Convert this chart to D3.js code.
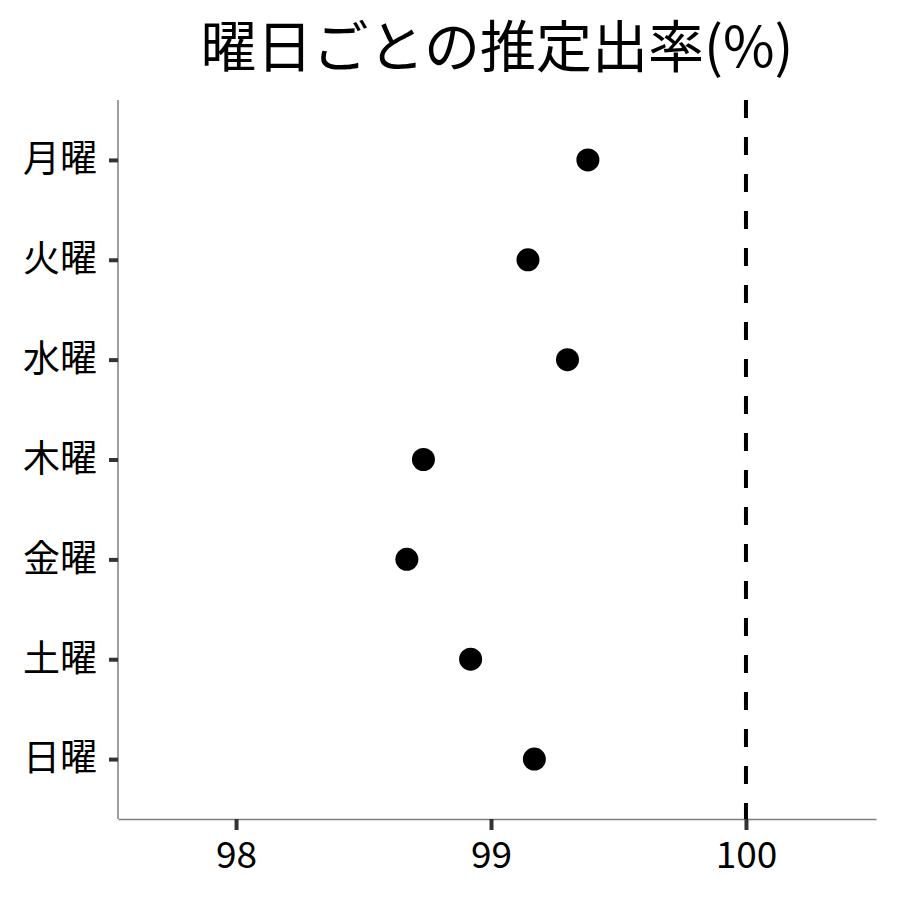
<!DOCTYPE html>
<html>
<head>
<meta charset="utf-8">
<script src="https://cdn.jsdelivr.net/npm/d3@7"></script>
<style>
  body { margin: 0; background: #fff; }
  text { font-family: "Noto Sans CJK JP", "Noto Sans", sans-serif; }
</style>
</head>
<body>
<svg id="chart" width="900" height="900"></svg>
<script>
const days = ["月曜", "火曜", "水曜", "木曜", "金曜", "土曜", "日曜"];
const rates = [99.38, 99.145, 99.30, 98.735, 98.67, 98.92, 99.17];
const xTicks = [98, 99, 100];
const refValue = 100;
const title = "曜日ごとの推定出率(%)";

const svg = d3.select("#chart");
const margin = { top: 100, right: 24, bottom: 81, left: 118 };
const width = 900 - margin.left - margin.right;
const height = 900 - margin.top - margin.bottom;

const g = svg.append("g")
  .attr("transform", `translate(${margin.left},${margin.top})`);

const x = d3.scaleLinear()
  .domain([97.537, 100.51])
  .range([0, width]);

// discrete axis with 0.6 expansion either side, like ggplot
const y = d3.scalePoint()
  .domain(days)
  .range([0, height])
  .padding(0.6);

// x axis
const xAxis = g.append("g")
  .attr("transform", `translate(0,${height})`)
  .call(d3.axisBottom(x).tickValues(xTicks).tickSize(11).tickSizeOuter(0).tickPadding(12).tickFormat(d3.format("d")));
xAxis.select(".domain").attr("stroke", "#7f7f7f").attr("stroke-width", 1.5);
xAxis.selectAll(".tick line").attr("stroke", "#333").attr("stroke-width", 4);
xAxis.selectAll("text").style("font-size", "37px").attr("fill", "#000");

// y axis
const yAxis = g.append("g")
  .call(d3.axisLeft(y).tickSize(9).tickSizeOuter(0).tickPadding(12));
yAxis.select(".domain").attr("stroke", "#7f7f7f").attr("stroke-width", 1.5).attr("d", `M0,0V${height}`);
yAxis.selectAll(".tick line").attr("stroke", "#333").attr("stroke-width", 4);
yAxis.selectAll("text").style("font-size", "37px").attr("fill", "#000");

// reference line
g.append("line")
  .attr("x1", x(refValue))
  .attr("x2", x(refValue))
  .attr("y1", 0)
  .attr("y2", height)
  .attr("stroke", "#000")
  .attr("stroke-width", 4)
  .attr("stroke-dasharray", "18,19");

// points
g.selectAll(".pt")
  .data(days)
  .enter()
  .append("circle")
  .attr("class", "pt")
  .attr("cx", (d, i) => x(rates[i]))
  .attr("cy", (d) => y(d))
  .attr("r", 11.5)
  .attr("fill", "#000");

// title
svg.append("text")
  .attr("x", margin.left + width / 2)
  .attr("y", 67)
  .attr("text-anchor", "middle")
  .style("font-size", "56px")
  .attr("fill", "#000")
  .text(title);
</script>
</body>
</html>
